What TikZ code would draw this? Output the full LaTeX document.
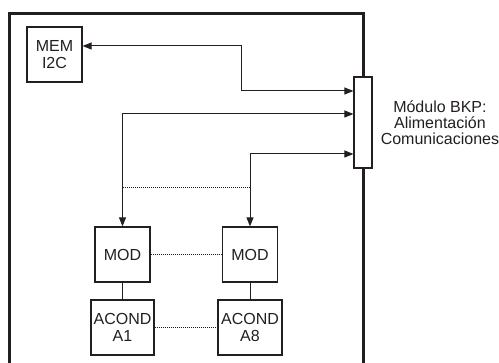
\documentclass[tikz,border=0pt]{standalone}
\usepackage{fontspec}
\setmainfont{Liberation Sans}
\usetikzlibrary{positioning,arrows.meta}
\definecolor{bkLine}{RGB}{35,31,32}

\begin{document}
\begin{tikzpicture}[x=1pt, y=1pt,
  box/.style={draw=bkLine, line width=1.2pt, inner sep=0pt, align=center, text=bkLine,
    font=\fontsize{16}{16.5}\selectfont},
  wire/.style={bkLine, line width=1pt},
  biarr/.style={{Triangle[length=9pt,width=7pt]}-{Triangle[length=9pt,width=7pt]}},
  link/.style={bkLine, line width=0.9pt, dash pattern=on 1pt off 1pt}]
  \useasboundingbox (0,0) rectangle (499,363);

  % Backplane module and its label
  \node[box, minimum width=18, minimum height=91] (bkp) at (363,240.5) {};
  \node[right=8 of bkp, inner sep=0pt, align=center, text=bkLine,
    font=\fontsize{16}{16}\selectfont] (bkplabel) {M\'odulo BKP:\\Alimentaci\'on\\Comunicaciones};

  % Outer frame
  \draw[bkLine, line width=3pt] (9.5,0) -- (9.5,349) -- (363,349) -- (bkp.north);
  \draw[bkLine, line width=3pt] (bkp.south) -- (363,0);

  % Blocks
  \node[box, minimum width=55, minimum height=55] (mem) at (54.5,308.5) {MEM\\I2C};
  \node[box, minimum width=55, minimum height=55] (mod1) at (122.5,108.5) {MOD};
  \node[box, minimum width=55, minimum height=55] (mod2) at (250,108.5) {MOD};
  \node[box, minimum width=63, minimum height=55] (acond1) at (122.5,35.5) {ACOND\\A1};
  \node[box, minimum width=64, minimum height=55] (acond8) at (250,35.5) {ACOND\\A8};

  % Buses to the backplane
  \draw[wire, biarr] ([yshift=8.5]mem.east) -| (241,272) -- (bkp.west |- 0,272);
  \draw[wire, biarr] (mod1.north) |- (bkp.west |- 0,249);
  \draw[wire, biarr] (mod2.north) |- (bkp.west |- 0,209);

  % Module links
  \draw[wire] (mod1) -- (acond1);
  \draw[wire] (mod2) -- (acond8);
  \draw[link] (mod1.north |- 0,176) -- (mod2.north |- 0,176);
  \draw[link] (mod1) -- (mod2);
  \draw[link] (acond1) -- (acond8);
\end{tikzpicture}
\end{document}
